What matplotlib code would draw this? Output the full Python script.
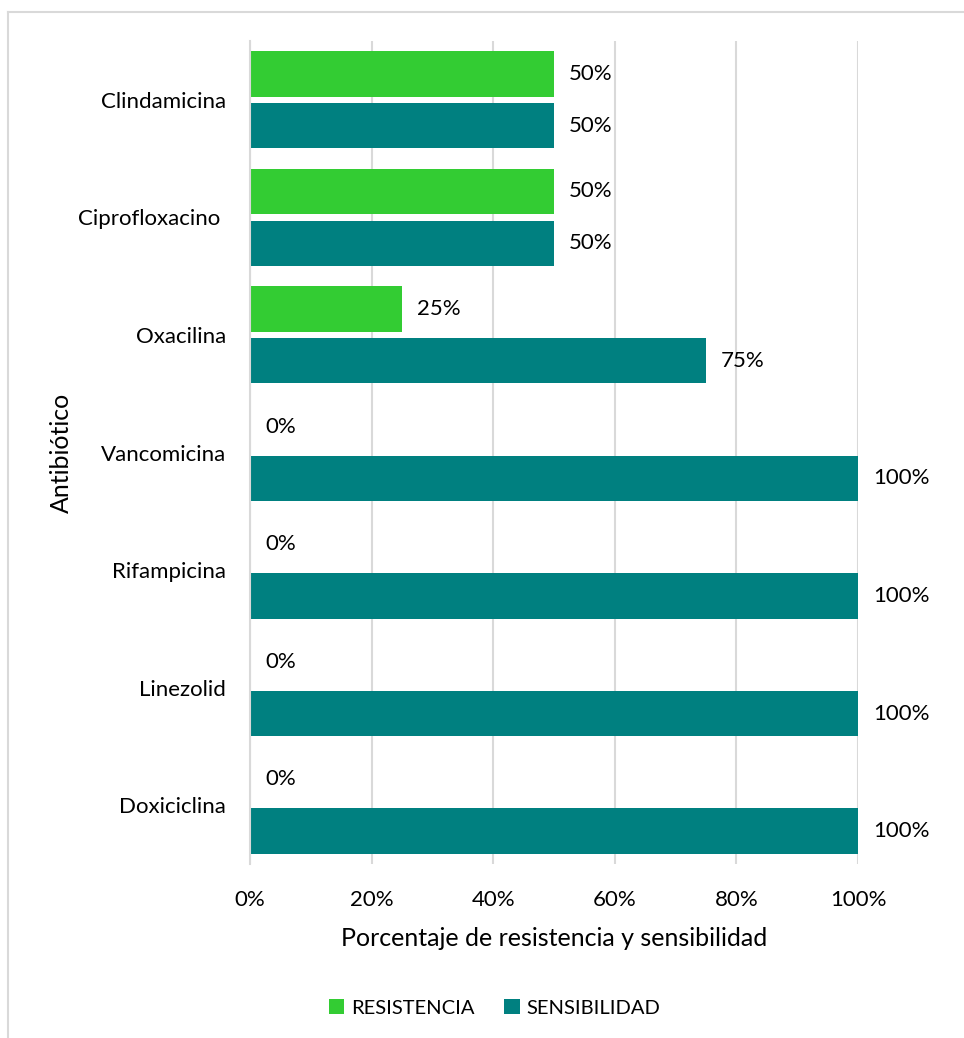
import matplotlib
matplotlib.use("Agg")
import matplotlib.pyplot as plt
import numpy as np
from matplotlib.lines import Line2D

# Data
antibioticos = ["Clindamicina", "Ciprofloxacino ", "Oxacilina", "Vancomicina",
                "Rifampicina", "Linezolid", "Doxiciclina"]
resistencia = [50, 50, 25, 0, 0, 0, 0]
sensibilidad = [50, 50, 75, 100, 100, 100, 100]
xticks = [0, 20, 40, 60, 80, 100]

plt.rcParams['font.family'] = ['Lato', 'DejaVu Sans']
green = "#33CC33"
teal = "#008080"
grid = "#D9D9D9"

fig = plt.figure(figsize=(9.64, 10.38), dpi=100)
ax = fig.add_axes([0.2593, 0.1676, 0.6307, 0.7929])

y = np.arange(len(antibioticos))
h = 0.385
off = 0.22

b1 = ax.barh(y - off, resistencia, height=h, color=green, label="RESISTENCIA")
b2 = ax.barh(y + off, sensibilidad, height=h, color=teal, label="SENSIBILIDAD")

# Value labels
for bars, vals in [(b1, resistencia), (b2, sensibilidad)]:
    for bar, v in zip(bars, vals):
        ax.annotate(f"{v}%", (v, bar.get_y() + bar.get_height() / 2),
                    xytext=(11, 0), textcoords="offset points",
                    ha="left", va="center", fontsize=16, color="#000000")

ax.set_xlim(0, 100)
ax.set_ylim(len(antibioticos) - 0.5, -0.5)
ax.set_yticks(y)
ax.set_yticklabels(antibioticos, fontsize=16)
ax.set_xticks(xticks)
ax.set_xticklabels([f"{t}%" for t in xticks], fontsize=16)
ax.tick_params(axis="y", length=0, pad=17)
ax.tick_params(axis="x", length=0, pad=19)

ax.grid(axis="x", color=grid, linewidth=1.5)
ax.set_axisbelow(True)
for s in ["top", "right", "bottom"]:
    ax.spines[s].set_visible(False)
ax.spines["left"].set_color(grid)
ax.spines["left"].set_linewidth(1.5)

ax.set_xlabel("Porcentaje de resistencia y sensibilidad", fontsize=18, labelpad=12)
ax.set_ylabel("Antibiótico", fontsize=18, labelpad=4)

fig.legend(handles=[b1, b2], loc="center", bbox_to_anchor=(0.513, 0.029),
           ncol=2, frameon=False, fontsize=14.5, handlelength=0.75,
           handleheight=0.75, columnspacing=1.5, handletextpad=0.35)

# Outer frame (top and left edges)
fig.add_artist(Line2D([8 / 964, 1], [1 - 12 / 1038, 1 - 12 / 1038],
                      transform=fig.transFigure, color=grid, linewidth=1.5))
fig.add_artist(Line2D([8 / 964, 8 / 964], [0, 1 - 12 / 1038],
                      transform=fig.transFigure, color=grid, linewidth=1.5))

fig.savefig("out.png", dpi=100)
